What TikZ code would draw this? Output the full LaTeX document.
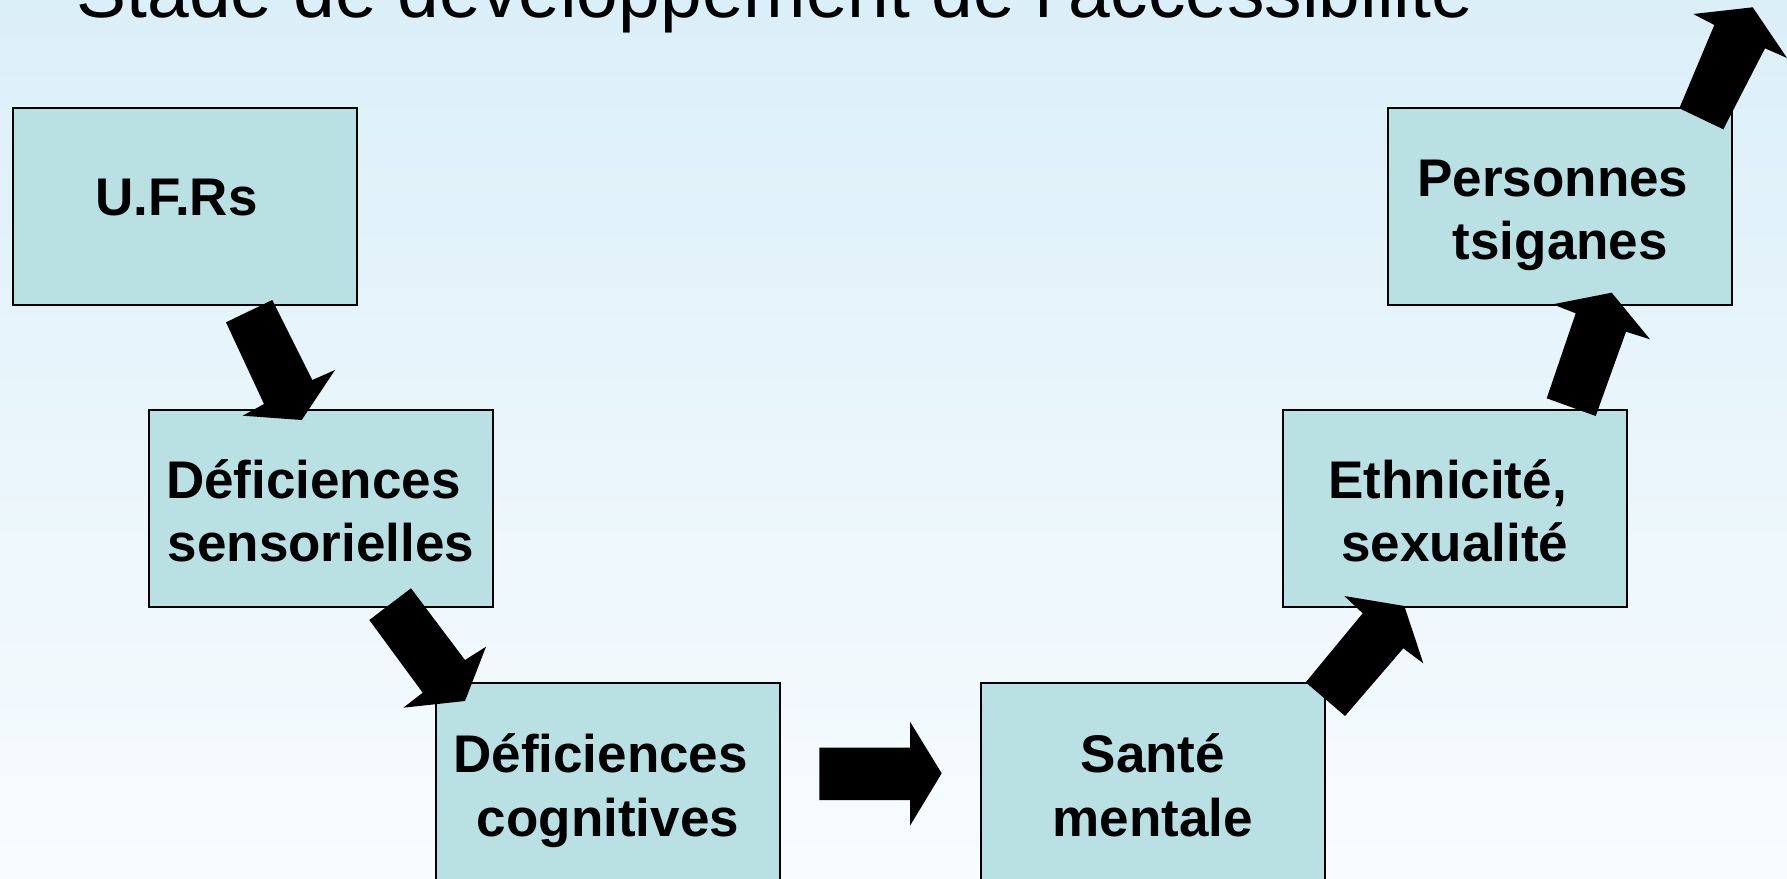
\documentclass[tikz,border=0pt]{standalone}
\usepackage{fontspec}
\setmainfont{Liberation Sans}
\definecolor{bgtop}{RGB}{219,239,248}
\definecolor{bgbot}{RGB}{248,252,255}
\definecolor{boxfill}{RGB}{185,224,227}
\begin{document}
\begin{tikzpicture}[x=1pt,y=-1pt,
  box/.style={draw=black,line width=2pt,fill=boxfill,minimum width=344pt,minimum height=197pt,inner sep=0pt},
  txt/.style={inner sep=0pt,anchor=base,font=\fontsize{53pt}{63.6pt}\selectfont\bfseries},
  blockarrow/.style={fill=black,draw=none}]
\shade[top color=bgtop,bottom color=bgbot] (0,0) rectangle (1787,878);
\useasboundingbox (0,0) rectangle (1787,878);
% title (cut at top, as in the original)
\node[inner sep=0pt,anchor=base west,font=\fontsize{75pt}{90pt}\selectfont] (title) at (76.5,17) {Stade de développement de l'accessibilité};
% boxes
\node[box] (ufr) at (184.6,206.9) {};
\node[box] (sens) at (320.9,508.9) {};
\node[box] (cog) at (608,781.2) {};
\node[box] (sante) at (1152.8,781.2) {};
\node[box] (ethn) at (1454.9,508.9) {};
\node[box] (pers) at (1560.3,206.9) {};
% texts
\node[txt] (t1) at (176.5,215) {U.F.Rs};
\node[txt] (t2a) at (313.5,498) {Déficiences};
\node[txt] (t2b) at (320.9,561.8) {sensorielles};
\node[txt] (t3a) at (600.6,772.7) {Déficiences};
\node[txt] (t3b) at (608,836.3) {cognitives};
\node[txt] (t4a) at (1152.8,772.7) {Santé};
\node[txt] (t4b) at (1152.8,836.3) {mentale};
\node[txt] (t5a) at (1447.5,498) {Ethnicité,};
\node[txt] (t5b) at (1454.9,561.8) {sexualité};
\node[txt] (t6a) at (1552.9,196) {Personnes};
\node[txt] (t6b) at (1560.3,259.8) {tsiganes};
% block arrows
\fill[blockarrow] (226,322.3) -- (272.3,300) -- (312.3,380) -- (335,370) -- (301.7,420) -- (242.7,415.7) -- (264,404) -- cycle;
\fill[blockarrow] (369.3,620) -- (411,588.3) -- (465,660) -- (486,646.7) -- (465,701) -- (403.3,707.7) -- (422.7,692.7) -- cycle;
\fill[blockarrow] (819.3,747.7) -- (910,747.7) -- (910,721.7) -- (941.7,773.3) -- (910,825.7) -- (910,800) -- (819.3,800) -- cycle;
\fill[blockarrow] (1305.7,682.3) -- (1345,716) -- (1403.3,648.3) -- (1423.3,663.3) -- (1404.3,606) -- (1344.3,596) -- (1362.7,613.3) -- cycle;
\fill[blockarrow] (1546.7,398.3) -- (1595.7,416) -- (1626,331.7) -- (1650,339.3) -- (1611.7,292.7) -- (1552.7,304.3) -- (1575.7,313.3) -- cycle;
\fill[blockarrow] (1679.3,108.3) -- (1723.3,129.3) -- (1765,48.3) -- (1787,58) -- (1752.7,7.3) -- (1693.3,14) -- (1714.3,25) -- cycle;
\end{tikzpicture}
\end{document}
